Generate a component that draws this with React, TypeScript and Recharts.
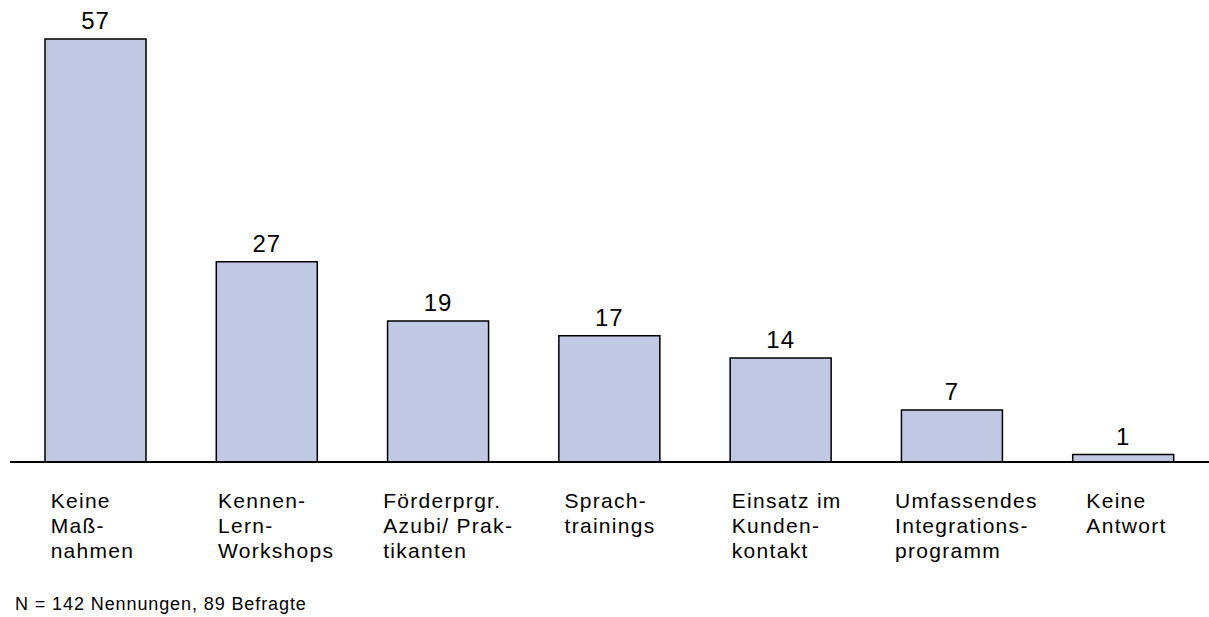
import { BarChart, Bar, XAxis, YAxis, LabelList } from 'recharts';

const categories = [
  'Keine\nMaß-\nnahmen',
  'Kennen-\nLern-\nWorkshops',
  'Förderprgr.\nAzubi/ Prak-\ntikanten',
  'Sprach-\ntrainings',
  'Einsatz im\nKunden-\nkontakt',
  'Umfassendes\nIntegrations-\nprogramm',
  'Keine\nAntwort',
];
const values = [57, 27, 19, 17, 14, 7, 1];
const footnote = 'N = 142 Nennungen, 89 Befragte';

// where each label block starts, relative to the bar centre
const labelShift = [-45, -49, -55, -45, -49, -57, -37];

const data = categories.map((name, i) => ({ name, value: values[i] }));

const font = '"Liberation Sans", Arial, Helvetica, sans-serif';

// multi-line category label, left aligned
function CategoryTick(props: any) {
  const { x, y, payload, index } = props;
  const lines = String(payload.value).split('\n');
  const left = x + (labelShift[index] ?? -45);
  return (
    <text x={left} y={y} textAnchor="start" fontSize={21} letterSpacing={1.3} fill="#000" fontFamily={font}>
      {lines.map((line, i) => (
        <tspan key={i} x={left} dy={i === 0 ? 46 : 25}>
          {line}
        </tspan>
      ))}
    </text>
  );
}

export default function App() {
  return (
    <div style={{ position: 'absolute', left: 0, top: 0, width: 1209, height: 617, background: '#fff' }}>
      <BarChart
        width={1209}
        height={617}
        data={data}
        margin={{ top: 39, right: 0, left: 10, bottom: 0 }}
        barSize={101}
      >
        <XAxis
          dataKey="name"
          height={155}
          interval={0}
          tickLine={false}
          tickSize={0}
          tickMargin={0}
          axisLine={{ stroke: '#000', strokeWidth: 2 }}
          tick={<CategoryTick />}
        />
        <YAxis hide domain={[0, 57]} />
        <Bar dataKey="value" fill="#c0c8e4" stroke="#000" strokeWidth={1.5} isAnimationActive={false}>
          <LabelList
            dataKey="value"
            position="top"
            offset={10}
            fill="#000"
            fontSize={24}
            letterSpacing={1}
            fontFamily={font}
          />
        </Bar>
      </BarChart>
      <svg width={1209} height={617} style={{ position: 'absolute', left: 0, top: 0, pointerEvents: 'none' }}>
        <text x={15} y={610} fontSize={18} letterSpacing={0.9} fill="#000" fontFamily={font}>
          {footnote}
        </text>
      </svg>
    </div>
  );
}
